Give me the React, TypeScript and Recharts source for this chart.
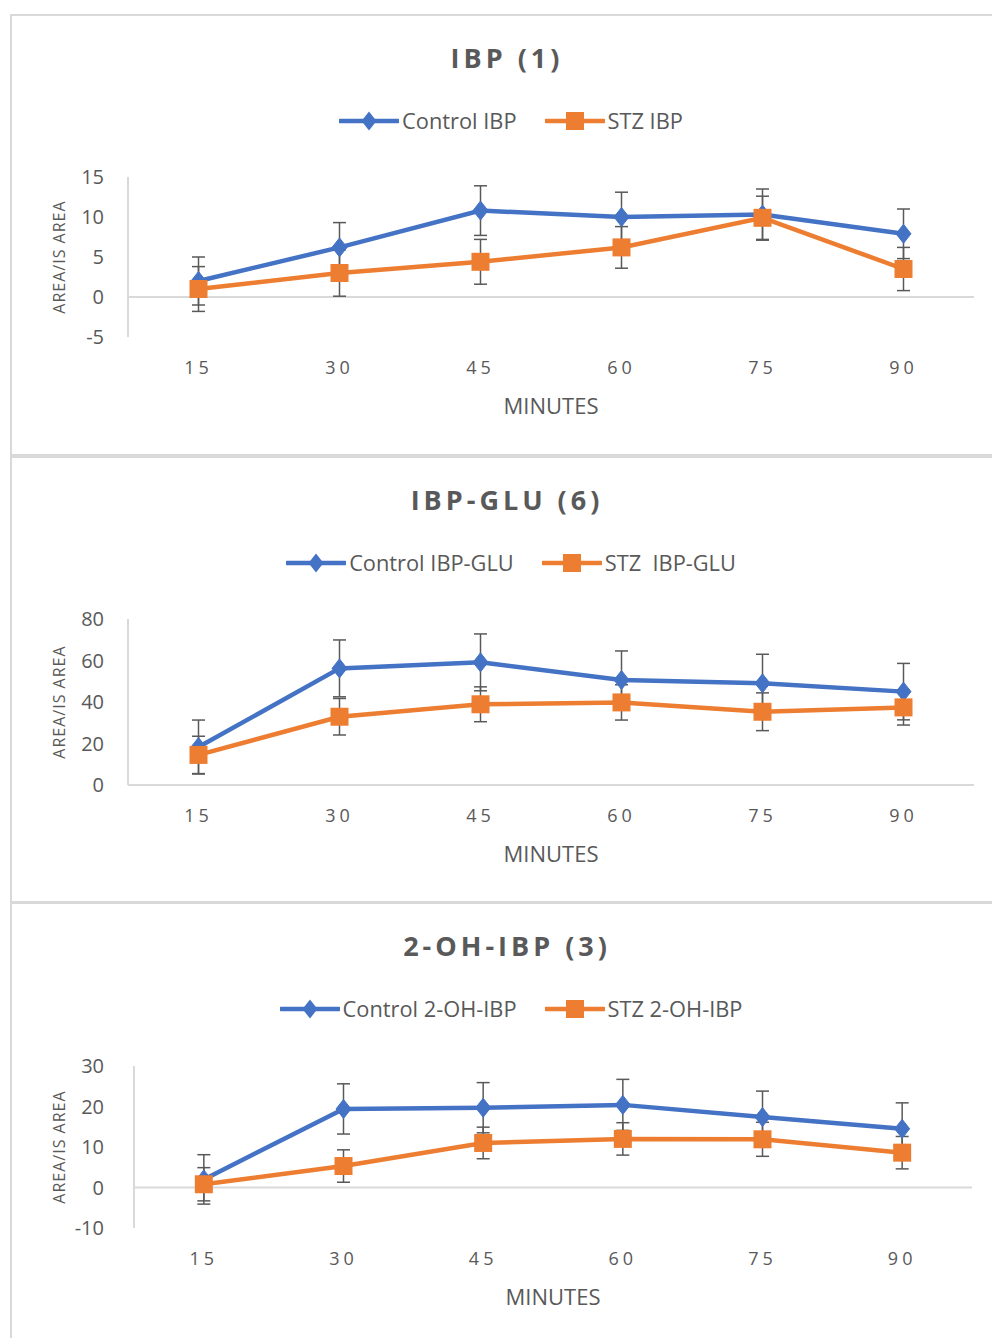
import React from 'react';
import { LineChart, Line, XAxis, YAxis, ErrorBar, ReferenceLine } from 'recharts';

// ---- data ----
const minutes = [15, 30, 45, 60, 75, 90];

const controlIBP = [2.0, 6.2, 10.8, 10.0, 10.3, 7.9];
const controlIBPErr = [3.0, 3.1, 3.1, 3.1, 3.2, 3.1];
const stzIBP = [1.0, 3.0, 4.4, 6.2, 9.9, 3.5];
const stzIBPErr = [2.8, 2.9, 2.8, 2.6, 2.7, 2.7];

const controlGLU = [18.3, 56.2, 59.1, 50.6, 49.0, 45.0];
const controlGLUErr = [13.0, 13.7, 13.7, 14.0, 14.0, 13.6];
const stzGLU = [14.5, 32.9, 38.9, 39.8, 35.3, 37.4];
const stzGLUErr = [9.0, 8.8, 8.4, 8.5, 9.1, 8.5];

const controlOH = [2.0, 19.4, 19.7, 20.4, 17.4, 14.5];
const controlOHErr = [6.1, 6.2, 6.2, 6.3, 6.4, 6.4];
const stzOH = [0.8, 5.3, 11.0, 12.0, 11.9, 8.6];
const stzOHErr = [4.1, 4.0, 3.9, 4.0, 4.2, 4.0];

const ticksIBP = [-5, 0, 5, 10, 15];
const ticksGLU = [0, 20, 40, 60, 80];
const ticksOH = [-10, 0, 10, 20, 30];

const BLUE = '#4472C4';
const ORANGE = '#ED7D31';
const GREY = '#595959';
const LIGHT = '#D9D9D9';
const FONT = '"Open Sans", "DejaVu Sans", sans-serif';

function build(c: number[], ce: number[], s: number[], se: number[]) {
  return minutes.map((m, i) => ({ minute: m, control: c[i], controlErr: ce[i], stz: s[i], stzErr: se[i] }));
}

const Diamond = (props: any) => {
  const { cx, cy, index } = props;
  if (cx == null || cy == null) return <g key={'d' + index} />;
  return (
    <polygon
      key={'d' + index}
      points={`${cx},${cy - 9.5} ${cx + 7.5},${cy} ${cx},${cy + 9.5} ${cx - 7.5},${cy}`}
      fill={BLUE}
      stroke={BLUE}
      strokeWidth={1}
    />
  );
};

const Square = (props: any) => {
  const { cx, cy, index } = props;
  if (cx == null || cy == null) return <g key={'s' + index} />;
  return <rect key={'s' + index} x={cx - 9} y={cy - 9} width={18} height={18} fill={ORANGE} />;
};

const XTick = (props: any) => {
  const { x, y, payload } = props;
  return (
    <text
      x={x}
      y={y + 30}
      textAnchor="middle"
      dominantBaseline="central"
      fontSize={18}
      letterSpacing={4}
      fill={GREY}
      fontFamily={FONT}
    >
      {payload.value}
    </text>
  );
};

const LegendIcon = ({ color, shape }: { color: string; shape: 'diamond' | 'square' }) => (
  <svg width={60} height={22} style={{ display: 'block' }}>
    <line x1={1} y1={11} x2={59} y2={11} stroke={color} strokeWidth={4.5} strokeLinecap="round" />
    {shape === 'diamond' ? (
      <polygon points="30,1.5 37.5,11 30,20.5 22.5,11" fill={color} />
    ) : (
      <rect x={21} y={2} width={18} height={18} fill={color} />
    )}
  </svg>
);

type PanelProps = {
  top: number;
  height: number;
  chartHeight: number;
  title: string;
  legendA: string;
  legendB: string;
  data: any[];
  domain: [number, number];
  ticks: number[];
  plotTop: number;
  plotHeight: number;
  yAxisWidth: number;
  rightMargin: number;
};

const Panel = (p: PanelProps) => {
  const xAxisHeight = p.chartHeight - p.plotTop - p.plotHeight;
  return (
    <>
      <div
        style={{
          position: 'absolute',
          left: 10,
          top: p.top,
          width: 995,
          height: p.height,
          border: `2px solid ${LIGHT}`,
          boxSizing: 'border-box',
          background: '#fff',
        }}
      />
      <div
        style={{
          position: 'absolute',
          left: 0,
          width: 1014,
          top: p.top + 26,
          textAlign: 'center',
          fontFamily: FONT,
          fontWeight: 700,
          fontSize: 27,
          letterSpacing: 4,
          color: GREY,
          lineHeight: '36px',
        }}
      >
        {p.title}
      </div>
      <div
        style={{
          position: 'absolute',
          left: 0,
          width: 1022,
          top: p.top + 92,
          display: 'flex',
          justifyContent: 'center',
          alignItems: 'center',
          fontFamily: FONT,
          fontSize: 21.8,
          color: GREY,
          lineHeight: '30px',
          whiteSpace: 'pre',
        }}
      >
        <LegendIcon color={BLUE} shape="diamond" />
        <span style={{ marginLeft: 3 }}>{p.legendA}</span>
        <span style={{ width: 28 }} />
        <LegendIcon color={ORANGE} shape="square" />
        <span style={{ marginLeft: 3 }}>{p.legendB}</span>
      </div>
      <div style={{ position: 'absolute', left: 0, top: p.top }}>
        <LineChart
          width={992}
          height={p.chartHeight}
          data={p.data}
          margin={{ top: p.plotTop, right: p.rightMargin, bottom: 0, left: 0 }}
        >
          <ReferenceLine y={0} stroke={LIGHT} strokeWidth={2} ifOverflow="extendDomain" />
          <XAxis
            dataKey="minute"
            type="number"
            domain={[7.5, 97.5]}
            ticks={minutes}
            interval={0}
            allowDataOverflow
            axisLine={false}
            tickLine={false}
            tickSize={0}
            tickMargin={0}
            height={xAxisHeight}
            tick={<XTick />}
            label={(lp: any) => {
              const vb = lp.viewBox || {};
              return (
                <text
                  x={(vb.x ?? p.yAxisWidth) + (vb.width ?? 846) / 2}
                  y={(vb.y ?? 0) + 68}
                  textAnchor="middle"
                  dominantBaseline="central"
                  fontSize={22}
                  fill={GREY}
                  fontFamily={FONT}
                >
                  MINUTES
                </text>
              );
            }}
          />
          <YAxis
            type="number"
            domain={p.domain}
            ticks={p.ticks}
            interval={0}
            allowDataOverflow
            width={p.yAxisWidth}
            axisLine={{ stroke: LIGHT, strokeWidth: 2 }}
            tickLine={false}
            tickSize={0}
            tickMargin={p.yAxisWidth - 104}
            tick={{ fontSize: 20, fill: GREY, fontFamily: FONT }}
            label={(lp: any) => {
              const vb = lp.viewBox || {};
              const cy = (vb.y ?? p.plotTop) + (vb.height ?? p.plotHeight) / 2;
              return (
                <text
                  x={59}
                  y={cy}
                  transform={`rotate(-90, 59, ${cy})`}
                  textAnchor="middle"
                  dominantBaseline="central"
                  fontSize={16}
                  letterSpacing={1}
                  fill={GREY}
                  fontFamily={FONT}
                >
                  AREA/IS AREA
                </text>
              );
            }}
          />
          <Line
            dataKey="control"
            stroke={BLUE}
            strokeWidth={4.5}
            dot={(dp: any) => <Diamond {...dp} />}
            activeDot={false}
            isAnimationActive={false}
          >
            <ErrorBar dataKey="controlErr" width={6.5} stroke={GREY} strokeWidth={1.5} direction="y" />
          </Line>
          <Line
            dataKey="stz"
            stroke={ORANGE}
            strokeWidth={4.5}
            dot={(dp: any) => <Square {...dp} />}
            activeDot={false}
            isAnimationActive={false}
          >
            <ErrorBar dataKey="stzErr" width={6.5} stroke={GREY} strokeWidth={1.5} direction="y" />
          </Line>
        </LineChart>
      </div>
    </>
  );
};

export default function App() {
  return (
    <div style={{ position: 'absolute', left: 0, top: 0, width: 992, height: 1338, overflow: 'hidden', background: '#fff' }}>
      <Panel
        top={14}
        height={442}
        chartHeight={440}
        title="IBP (1)"
        legendA="Control IBP"
        legendB="STZ IBP"
        data={build(controlIBP, controlIBPErr, stzIBP, stzIBPErr)}
        domain={[-5, 15]}
        ticks={ticksIBP}
        plotTop={163}
        plotHeight={160}
        yAxisWidth={128}
        rightMargin={18}
      />
      <Panel
        top={456}
        height={447}
        chartHeight={443}
        title="IBP-GLU (6)"
        legendA="Control IBP-GLU"
        legendB="STZ  IBP-GLU"
        data={build(controlGLU, controlGLUErr, stzGLU, stzGLUErr)}
        domain={[0, 80]}
        ticks={ticksGLU}
        plotTop={163}
        plotHeight={166}
        yAxisWidth={128}
        rightMargin={18}
      />
      <Panel
        top={902}
        height={450}
        chartHeight={436}
        title="2-OH-IBP (3)"
        legendA="Control 2-OH-IBP"
        legendB="STZ 2-OH-IBP"
        data={build(controlOH, controlOHErr, stzOH, stzOHErr)}
        domain={[-10, 30]}
        ticks={ticksOH}
        plotTop={164}
        plotHeight={162}
        yAxisWidth={134}
        rightMargin={20}
      />
    </div>
  );
}
